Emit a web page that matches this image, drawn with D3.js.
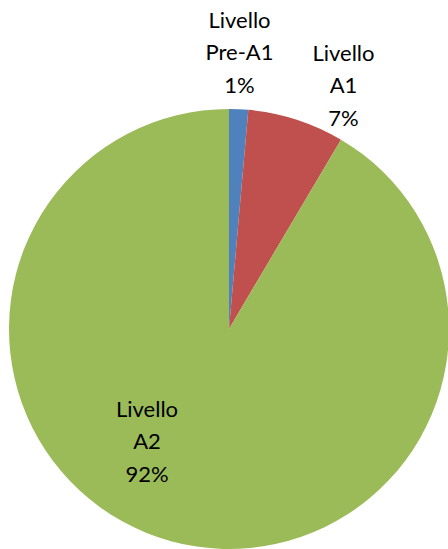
<!DOCTYPE html>
<html><head><meta charset="utf-8">
<script src="https://cdn.jsdelivr.net/npm/d3@7"></script>
<style>body{margin:0;background:#fff}svg{display:block}</style>
</head><body>
<svg id="c" width="448" height="549"></svg>
<script>
const categories = ["Livello Pre-A1", "Livello A1", "Livello A2"];
const values = [1.4, 7.1, 91.5];
const pctLabels = ["1%", "7%", "92%"];
const colors = ["#4F81BD", "#C0504D", "#9BBB59"];

const svg = d3.select("#c");
const cx = 229, cy = 329, r = 220;
const g = svg.append("g").attr("transform", `translate(${cx},${cy})`);
const pie = d3.pie().sort(null).value(d => d)(values);
const arc = d3.arc().innerRadius(0).outerRadius(r);
g.selectAll("path").data(pie).join("path")
  .attr("d", arc).attr("fill", (d, i) => colors[i]);

// label positions (relative to center) tuned to the reference
const labelPos = [[10.5, -301], [114.5, -268], [-82, 88]];
const lineH = 32.3;
categories.forEach((c, i) => {
  const parts = c.split(" ");
  const lines = [parts[0], parts.slice(1).join(" "), pctLabels[i]];
  const t = g.append("text").attr("text-anchor", "middle")
    .attr("font-family", "Lato, 'Open Sans', sans-serif").attr("font-size", 22).attr("fill", "#000");
  lines.forEach((l, j) => {
    t.append("tspan").attr("x", labelPos[i][0]).attr("y", labelPos[i][1] + j * lineH).text(l);
  });
});
</script>
</body></html>
